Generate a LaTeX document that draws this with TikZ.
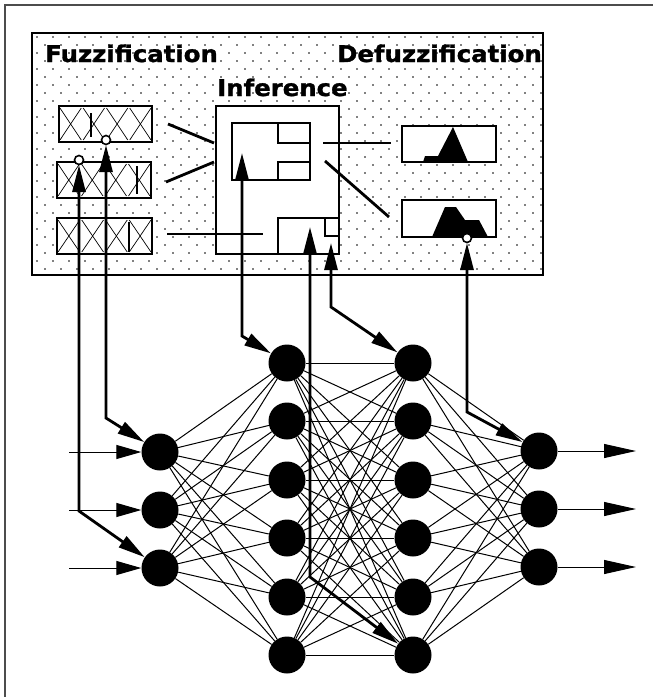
\documentclass[tikz,border=0pt]{standalone}
\usepackage{fontspec}
\newfontfamily\labfont[FakeBold=1.2]{DejaVu Sans Bold}
\usetikzlibrary{arrows.meta}
\begin{document}
\begin{tikzpicture}[x=1pt,y=-1pt,
  neuron/.style={circle,fill=black,minimum size=37pt,inner sep=0pt},
  conn/.style={line width=1pt},
  boxline/.style={draw=black,line width=1.4pt,fill=white},
  thinbox/.style={draw=black,line width=1.2pt},
  feed/.style={line width=2.8pt},
  bi/.style={line width=2.8pt,{Triangle[width=13pt,length=27pt]}-{Triangle[width=13pt,length=27pt]}},
  ioarrow/.style={line width=1pt,-{Triangle[width=14pt,length=25pt]}},
  outarrow/.style={line width=1pt,-{Triangle[width=14pt,length=32pt]}},
  tipring/.style={circle,draw=black,fill=white,line width=1.6pt,minimum size=9pt,inner sep=0pt},
  heading/.style={anchor=base west,inner sep=0pt,font=\labfont\fontsize{23}{23}\selectfont},
  mfx/.style={line width=0.7pt},
  bar/.style={line width=2.8pt}
]
\useasboundingbox (0,0) rectangle (653,697);
% outer frame
\draw[black!70,line width=2pt] (655,5) -- (5,5) -- (5,699);
% dotted panel
\draw[line width=1.6pt] (32,33) rectangle (543,275);
\foreach \yy in {37,53,...,271} \foreach \xx in {37,53,...,533} \fill (\xx,\yy) circle[radius=0.85pt];
\foreach \yy in {45,61,...,271} \foreach \xx in {45,61,...,541} \fill (\xx,\yy) circle[radius=0.85pt];
% headings
\node[heading] (tfuz) at (45,62) {\scalebox{1.06}[1]{Fuzzification}};
\node[heading] (tdef) at (337,62) {\scalebox{1.06}[1]{Defuzzification}};
\node[heading] (tinf) at (217,96) {\scalebox{1.06}[1]{Inference}};
% fuzzification boxes
\foreach \n/\xa/\ya/\xb/\yb in {1/59/106/152/142, 2/57/162/151/198, 3/57/218/152/254}{
  \draw[boxline] (\xa,\ya) rectangle (\xb,\yb);
  \coordinate (fz\n) at (\xb,\ya);
  \pgfmathsetmacro{\w}{(\xb-\xa)/4}
  \foreach \i in {0,1,2,3}{
    \pgfmathsetmacro{\la}{\xa+\i*\w+1}
    \pgfmathsetmacro{\lb}{\xa+(\i+1)*\w-1}
    \draw[mfx] (\la,\ya+2) -- (\lb,\yb-2);
    \draw[mfx] (\la,\yb-2) -- (\lb,\ya+2);
  }
}
\draw[bar] (91,113) -- (91,137);
\draw[bar] (137,166) -- (137,194);
\draw[bar] (129,222) -- (129,252);
% inference box
\draw[boxline] (216,106) rectangle (339,254);
\draw[thinbox] (232,123) rectangle (310,180);
\draw[thinbox] (278,123) -- (278,143) -- (310,143);
\draw[thinbox] (278,180) -- (278,162) -- (310,162);
\draw[thinbox] (278,254) -- (278,218) -- (339,218);
\draw[thinbox] (325,218) -- (325,236) -- (339,236);
% defuzzification boxes
\draw[boxline] (402,126) rectangle (496,162);
\fill (423,162) -- (425,156) -- (438,156) -- (453,127) -- (468,162) -- cycle;
\draw[boxline] (402,200) rectangle (496,237);
\fill (432,237) -- (445,207) -- (456,207) -- (465,220) -- (479,220) -- (488,237) -- cycle;
% fuzzy links
\coordinate (f1a) at (168,124); \coordinate (f1b) at (214,143);
\coordinate (f2a) at (166,182); \coordinate (f2b) at (214,162);
\coordinate (f3a) at (167,234); \coordinate (f3b) at (263,234);
\coordinate (d1a) at (323,143); \coordinate (d1b) at (391,143);
\coordinate (d2a) at (325,161); \coordinate (d2b) at (389,217);
\draw[feed] (f1a) -- (f1b);
\draw[feed] (f2a) -- (f2b);
\draw[feed] (f3a) -- (f3b);
\draw[feed] (d1a) -- (d1b);
\draw[feed] (d2a) -- (d2b);
% neurons
\foreach \k/\yy in {1/452,2/510,3/568} \node[neuron] (i\k) at (160,\yy) {};
\foreach \k/\yy in {1/363,2/421,3/480,4/538,5/597,6/655} {
  \node[neuron] (h\k) at (287,\yy) {};
  \node[neuron] (g\k) at (413,\yy) {};
}
\foreach \k/\yy in {1/451,2/509,3/567} \node[neuron] (o\k) at (539,\yy) {};
% full connections
\foreach \a in {1,2,3} \foreach \b in {1,...,6} \draw[conn] (i\a) -- (h\b);
\foreach \a in {1,...,6} \foreach \b in {1,...,6} \draw[conn] (h\a) -- (g\b);
\foreach \a in {1,...,6} \foreach \b in {1,2,3} \draw[conn] (g\a) -- (o\b);
% inputs and outputs
\foreach \k/\yy in {1/452,2/510,3/568} {
  \coordinate (in\k) at (69,\yy);
  \draw[ioarrow] (in\k) -- (i\k);
}
\foreach \k/\yy in {1/451,2/509,3/567} {
  \coordinate (out\k) at (636,\yy);
  \draw[outarrow] (o\k) -- (out\k);
}
% bidirectional links
\coordinate (a1) at (79,511);  \coordinate (a2) at (79,165);
\coordinate (b1) at (106,418); \coordinate (b2) at (106,145);
\coordinate (c1) at (242,336); \coordinate (c2) at (242,153);
\coordinate (e1) at (310,577); \coordinate (e2) at (310,227);
\coordinate (k1) at (331,307); \coordinate (k2) at (331,243);
\coordinate (m1) at (467,412); \coordinate (m2) at (467,243);
\draw[bi] (i3) -- (a1) -- (a2);
\draw[bi] (i1) -- (b1) -- (b2);
\draw[bi] (h1) -- (c1) -- (c2);
\draw[bi] (g6) -- (e1) -- (e2);
\draw[bi] (g1) -- (k1) -- (k2);
\draw[bi] (o1) -- (m1) -- (m2);
\node[tipring] (ra) at (79,160) {};
\node[tipring] (rb) at (106,140) {};
\node[tipring] (rm) at (467,238) {};
\end{tikzpicture}
\end{document}
